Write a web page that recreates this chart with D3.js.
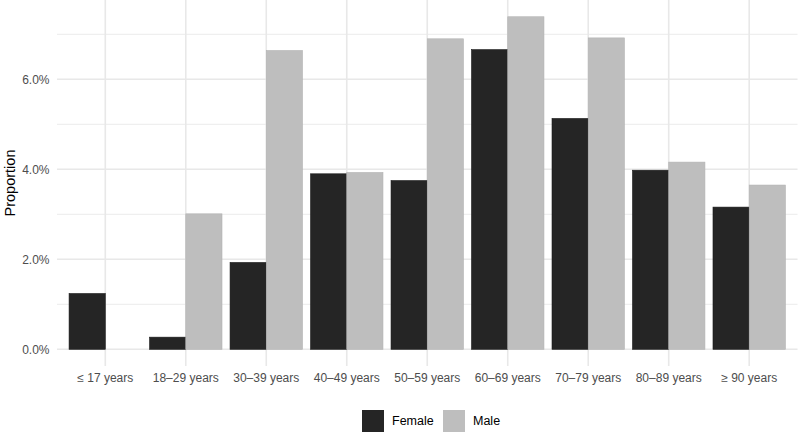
<!DOCTYPE html>
<html><head><meta charset="utf-8">
<script src="https://cdn.jsdelivr.net/npm/d3@7"></script>
<style>body{margin:0;background:#fff}svg{display:block;font-family:"Liberation Sans",Arial,sans-serif}</style>
</head><body><svg id="c" width="800" height="433"></svg>
<script>
const categories = ["\u2264 17 years","18\u201329 years","30\u201339 years","40\u201349 years","50\u201359 years","60\u201369 years","70\u201379 years","80\u201389 years","\u2265 90 years"];
const seriesNames = ["Female","Male"];
const female = [1.24,0.27,1.93,3.90,3.75,6.66,5.13,3.98,3.16];
const male = [0,3.01,6.64,3.93,6.90,7.39,6.92,4.16,3.65];
const yTicks = [0,2,4,6];
const yMinor = [1,3,5,7];
const colors = {Female:"#252525", Male:"#bebebe"};

(function(){
const svg = d3.select("#c");
const pL = 57, pR = 797.5, pT = 0, pB = 366;
const n = categories.length;
const step = (pR-pL)/(n-1+1.2);
const x = d3.scalePoint().domain(categories).range([pL+0.6*step, pR-0.6*step]);
const y = d3.scaleLinear().domain([0,7]).range([349.3, 349.3-7*45]);

const g = svg.append("g");
g.selectAll(".ymin").data(yMinor).join("line")
 .attr("x1",pL).attr("x2",pR).attr("y1",d=>y(d)).attr("y2",d=>y(d))
 .attr("stroke","#efefef").attr("stroke-width",1.2);
g.selectAll(".ymaj").data(yTicks).join("line")
 .attr("x1",pL).attr("x2",pR).attr("y1",d=>y(d)).attr("y2",d=>y(d))
 .attr("stroke","#e8e8e8").attr("stroke-width",1.6);
g.selectAll(".xg").data(categories).join("line")
 .attr("x1",d=>x(d)).attr("x2",d=>x(d)).attr("y1",pT).attr("y2",pB)
 .attr("stroke","#e8e8e8").attr("stroke-width",1.6);

const bw = step*0.9/2;
const rows = categories.map((c,i)=>({c, Female:female[i], Male:male[i]}));
seriesNames.forEach((s,si)=>{
  g.selectAll(".b"+s).data(rows.filter(r=>r[s]>0)).join("rect")
   .attr("x",d=>x(d.c) - bw + si*bw).attr("width",bw)
   .attr("y",d=>y(d[s])).attr("height",d=>y(0)-y(d[s]))
   .attr("fill",colors[s]).attr("stroke", s==="Female"?"#1a1a1a":"#b3b3b3").attr("stroke-width",0.6);
});

g.selectAll(".yt").data(yTicks).join("text")
 .attr("x",49.5).attr("y",d=>y(d)).attr("dy","0.35em").attr("text-anchor","end")
 .attr("font-size",12).attr("fill","#4d4d4d").text(d=>d.toFixed(1)+"%");
g.selectAll(".xt").data(categories).join("text")
 .attr("x",d=>x(d)).attr("y",378).attr("dy","0.35em").attr("text-anchor","middle")
 .attr("font-size",12).attr("fill","#4d4d4d").text(d=>d);
svg.append("text").attr("transform","translate(15,183) rotate(-90)").attr("text-anchor","middle")
 .attr("font-size",14.5).attr("fill","#000").text("Proportion");

const leg = svg.append("g");
const lx = [362, 443];
seriesNames.forEach((s,i)=>{
  leg.append("rect").attr("x",lx[i]).attr("y",410).attr("width",22).attr("height",22).attr("fill",colors[s]);
  leg.append("text").attr("x",lx[i]+30).attr("y",421).attr("dy","0.35em").attr("font-size",12.5).attr("fill","#000").text(s);
});
})();
</script></body></html>
